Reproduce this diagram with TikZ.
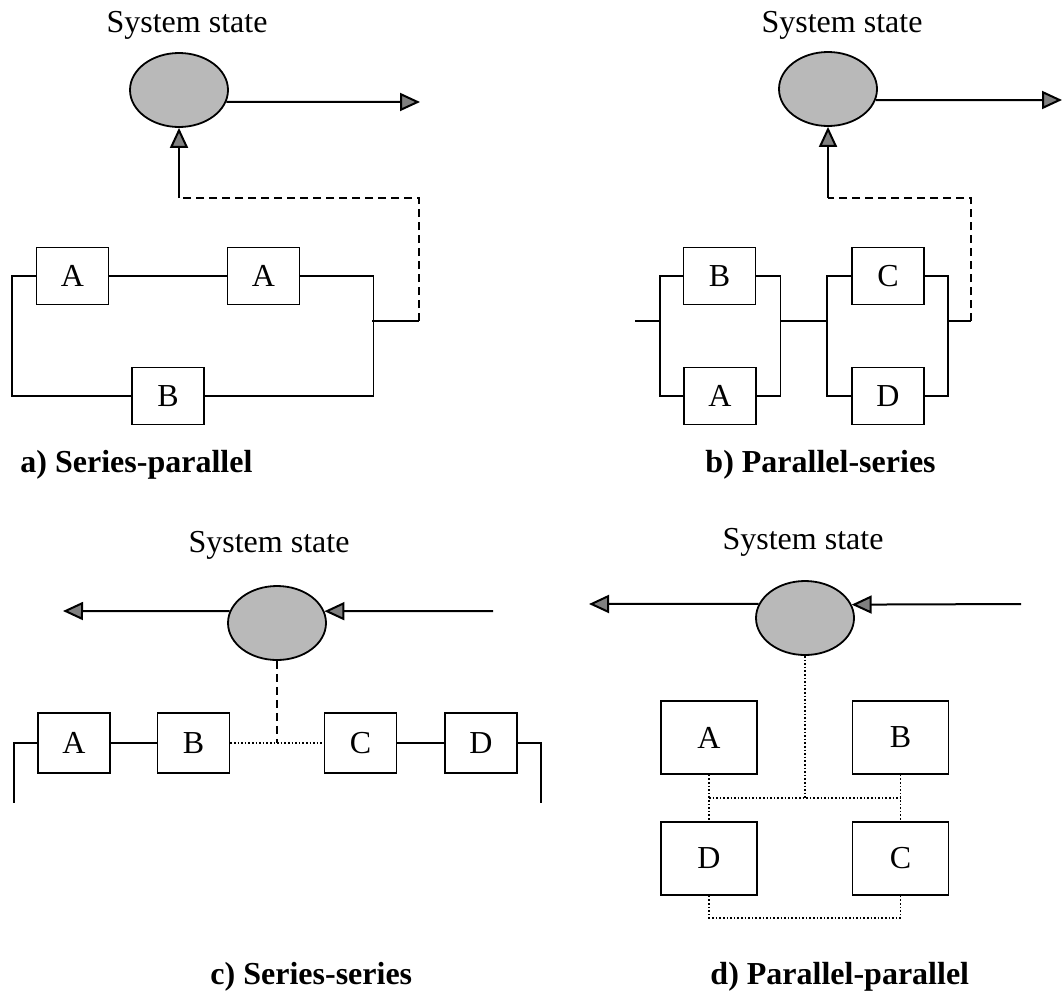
\documentclass[tikz,border=0pt]{standalone}
\usepackage{fontspec}
\setmainfont{Liberation Serif}
\usetikzlibrary{shapes.geometric,arrows.meta}
\tikzstyle{block}=[rectangle, draw, inner sep=0pt, minimum width=36pt, minimum height=28.5pt, font=\fontsize{16}{19}\selectfont]
\tikzstyle{bigblock}=[block, minimum width=48pt, minimum height=36.5pt]
\tikzstyle{sysstate}=[ellipse, draw, line width=0.9pt, fill=gray!55, inner sep=0pt, minimum width=49pt, minimum height=37pt]
\tikzstyle{paneltitle}=[font=\fontsize{16}{19}\selectfont]
\tikzstyle{panelcap}=[anchor=west, font=\fontsize{16}{19}\selectfont\bfseries]
\tikzstyle{flow}=[line width=1pt, -{Triangle[length=10pt,width=9pt,fill=gray]}]
\tikzstyle{feed}=[dash pattern=on 4pt off 2.5pt]
\providecommand{\block}{\node[block]}

\begin{document}
\begin{tikzpicture}[x=0.5pt, y=-0.5pt, line width=0.8pt]
\useasboundingbox (0,0) rectangle (1063,1001);

% a) series-parallel
\node[paneltitle] (ta) at (187,25) {System state};
\node[sysstate] (sa) at (179,90) {};
\coordinate (oa) at (420,102);
\draw[flow] (sa.-14.5) -- (oa);
\block (a1) at (72.5,276) {A};
\block (a2) at (263.5,276) {A};
\block (ba) at (168,396) {B};
\path (a1) edge (a2);
\draw (a1.west) -- ++(-24,0) |- (ba.west);
\draw (a2.east) -- ++(73,0) |- (ba.east);
\coordinate (ja) at (372,321);
\coordinate (ka) at (419,198);
\draw (ja) -- (ja -| ka);
\draw[feed] (ja -| ka) -- (ka) -- (ka -| sa);
\draw[flow] (ka -| sa) -- (sa);
\node[panelcap] (capa) at (13,465) {a) Series-parallel};

% b) parallel-series
\node[paneltitle] (tb) at (842,25) {System state};
\node[sysstate] (sb) at (828,89) {};
\coordinate (ob) at (1062,100);
\draw[flow] (sb.-13) -- (ob);
\block (bB) at (719.5,276) {B};
\block (bA) at (720,396) {A};
\block (bC) at (888,276) {C};
\block (bD) at (888,396) {D};
\draw (bB.west) -- ++(-23,0) |- (bA.west);
\draw (bB.east) -- ++(24,0) |- (bA.east);
\draw (bC.west) -- ++(-24,0) |- (bD.west);
\draw (bC.east) -- ++(23,0) |- (bD.east);
\coordinate (ib) at (635,321);
\coordinate (jb1) at (660,321);
\coordinate (jb2) at (780,321);
\coordinate (jb3) at (828,321);
\coordinate (jb4) at (947,321);
\coordinate (kb) at (971,198);
\draw (ib) -- (jb1);
\draw (jb2) -- (jb3);
\draw (jb4) -- (jb4 -| kb);
\draw[feed] (jb4 -| kb) -- (kb) -- (kb -| sb);
\draw[flow] (kb -| sb) -- (sb);
\node[panelcap] (capb) at (698,465) {b) Parallel-series};

% c) series-series
\node[paneltitle] (tc) at (269,545) {System state};
\node[sysstate] (sc) at (277,623) {};
\coordinate (oc) at (63,611);
\coordinate (ic) at (493,611);
\draw[flow] (sc.166) -- (oc);
\draw[flow] (ic) -- (sc.14);
\block[minimum height=30pt] (cA) at (74,743) {A};
\block[minimum height=30pt] (cB) at (193.5,743) {B};
\block[minimum height=30pt] (cC) at (360.5,743) {C};
\block[minimum height=30pt] (cD) at (481,743) {D};
\path (cA) edge (cB)
      (cC) edge (cD);
\draw[densely dotted] (cB) -- (cC);
\coordinate (jc) at (sc |- cB);
\draw[feed] (sc) -- (jc);
\draw (cA.west) -- ++(-23,0) -- ++(0,60);
\draw (cD.east) -- ++(23,0) -- ++(0,60);
\node[panelcap] (capc) at (203,977) {c) Series-series};

% d) parallel-parallel
\node[paneltitle] (td) at (803,542) {System state};
\node[sysstate] (sd) at (805,618) {};
\coordinate (od) at (589,604);
\coordinate (id) at (1021,604);
\draw[flow] (sd.163.3) -- (od);
\draw[flow] (id) -- (sd.16.7);
\node[bigblock] (dA) at (709,737.5) {A};
\node[bigblock] (dB) at (900.5,737.5) {B};
\node[bigblock] (dD) at (709,858.5) {D};
\node[bigblock] (dC) at (900.5,858.5) {C};
\coordinate (jd) at (805,798);
\draw[densely dotted] (sd) -- (jd);
\draw[densely dotted] (dA) -- (dD);
\draw[densely dotted] (dB) -- (dC);
\draw[densely dotted] (jd -| dA) -- (jd -| dB);
\draw[densely dotted] (dD.south) -- ++(0,22) -| (dC.south);
\node[panelcap] (capd) at (703,977) {d) Parallel-parallel};
\end{tikzpicture}
\end{document}
